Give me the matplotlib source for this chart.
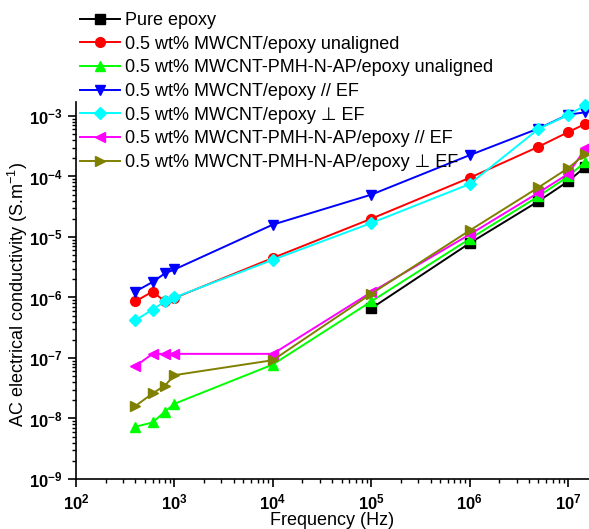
import numpy as np
import matplotlib
matplotlib.use('Agg')
import matplotlib.pyplot as plt
from matplotlib.ticker import FuncFormatter, LogLocator

plt.rcParams['font.family'] = ['Liberation Sans', 'DejaVu Sans']
plt.rcParams['mathtext.fontset'] = 'custom'
plt.rcParams['mathtext.rm'] = 'Liberation Sans'
plt.rcParams['mathtext.bf'] = 'Liberation Sans:bold'

# Frecuencias (Hz)
freq_low = [400, 600, 800, 1000, 1e4, 1e5, 1e6, 5e6, 1e7, 1.5e7]
freq_epoxy = [1e5, 1e6, 5e6, 1e7, 1.5e7]

# Conductividad AC (S/m)
pure_epoxy = [6.6e-7, 7.9e-6, 3.9e-5, 8.3e-5, 1.45e-4]
cnt_unaligned = [8.6e-7, 1.25e-6, 8.6e-7, 9.8e-7, 4.5e-6, 2.0e-5, 9.5e-5, 3.1e-4, 5.4e-4, 7.4e-4]
pmh_unaligned = [7.3e-9, 8.6e-9, 1.3e-8, 1.75e-8, 7.8e-8, 8.6e-7, 9.3e-6, 4.7e-5, 1.0e-4, 1.76e-4]
cnt_par = [1.25e-6, 1.8e-6, 2.5e-6, 2.9e-6, 1.6e-5, 5.0e-5, 2.25e-4, 6.2e-4, 1.05e-3, 1.15e-3]
cnt_perp = [4.2e-7, 6.3e-7, 8.6e-7, 1.0e-6, 4.2e-6, 1.7e-5, 7.5e-5, 6.1e-4, 1.04e-3, 1.5e-3]
pmh_par = [7.3e-8, 1.17e-7, 1.17e-7, 1.17e-7, 1.17e-7, 1.22e-6, 1.1e-5, 5.4e-5, 1.1e-4, 2.9e-4]
pmh_perp = [1.6e-8, 2.6e-8, 3.5e-8, 5.2e-8, 9.2e-8, 1.15e-6, 1.28e-5, 6.6e-5, 1.37e-4, 2.36e-4]

labels = ['Pure epoxy',
          '0.5 wt% MWCNT/epoxy unaligned',
          '0.5 wt% MWCNT-PMH-N-AP/epoxy unaligned',
          '0.5 wt% MWCNT/epoxy // EF',
          '0.5 wt% MWCNT/epoxy \u22a5 EF',
          '0.5 wt% MWCNT-PMH-N-AP/epoxy // EF',
          '0.5 wt% MWCNT-PMH-N-AP/epoxy \u22a5 EF']

fig = plt.figure(figsize=(5.89, 5.29), dpi=100)
ax = fig.add_axes([76 / 589, 50 / 529, 513 / 589, 377 / 529])

estilo = dict(linewidth=1.4, markersize=7, clip_on=False)
ax.plot(freq_epoxy, pure_epoxy, color='black', marker='s', label=labels[0], **estilo)
ax.plot(freq_low, cnt_unaligned, color='red', marker='o', label=labels[1], **estilo)
ax.plot(freq_low, pmh_unaligned, color='#00ff00', marker='^', label=labels[2], **estilo)
ax.plot(freq_low, cnt_par, color='blue', marker='v', label=labels[3], **estilo)
ax.plot(freq_low, cnt_perp, color='cyan', marker='D', label=labels[4],
        linewidth=1.4, markersize=6, clip_on=False)
ax.plot(freq_low, pmh_par, color='magenta', marker='<', label=labels[5], **estilo)
ax.plot(freq_low, pmh_perp, color='#808000', marker='>', label=labels[6], **estilo)

ax.set_xscale('log')
ax.set_yscale('log')
ax.set_xlim(100, 1.63e7)
ax.set_ylim(1e-9, 1.7e-3)

for s in ['top', 'right']:
    ax.spines[s].set_visible(False)
for s in ['left', 'bottom']:
    ax.spines[s].set_linewidth(1.2)

ax.xaxis.set_major_locator(LogLocator(base=10, numticks=20))
ax.yaxis.set_major_locator(LogLocator(base=10, numticks=20))
ax.xaxis.set_minor_locator(LogLocator(base=10, subs=np.arange(2, 10), numticks=20))
ax.yaxis.set_minor_locator(LogLocator(base=10, subs=np.arange(2, 10), numticks=20))
fmt = FuncFormatter(lambda v, p: r'$\mathbf{10^{%d}}$' % round(np.log10(v)))
ax.xaxis.set_major_formatter(fmt)
ax.yaxis.set_major_formatter(fmt)
ax.tick_params(which='major', direction='out', length=6, width=1.2, labelsize=12)
ax.tick_params(which='minor', direction='out', length=3, width=1)

ax.set_xlabel('Frequency (Hz)', fontsize=13, labelpad=0)
ax.set_ylabel('AC electrical conductivity (S.m$^{-1}$)', fontsize=13)
ax.yaxis.set_label_coords(-0.09, 0.49)

fig.legend(loc='upper left', bbox_to_anchor=(80 / 589, 1 - 12 / 529), frameon=False,
           fontsize=13, handlelength=2.2, labelspacing=0.37, handletextpad=0.3,
           borderaxespad=0, borderpad=0)

fig.savefig('out.png', dpi=100)
